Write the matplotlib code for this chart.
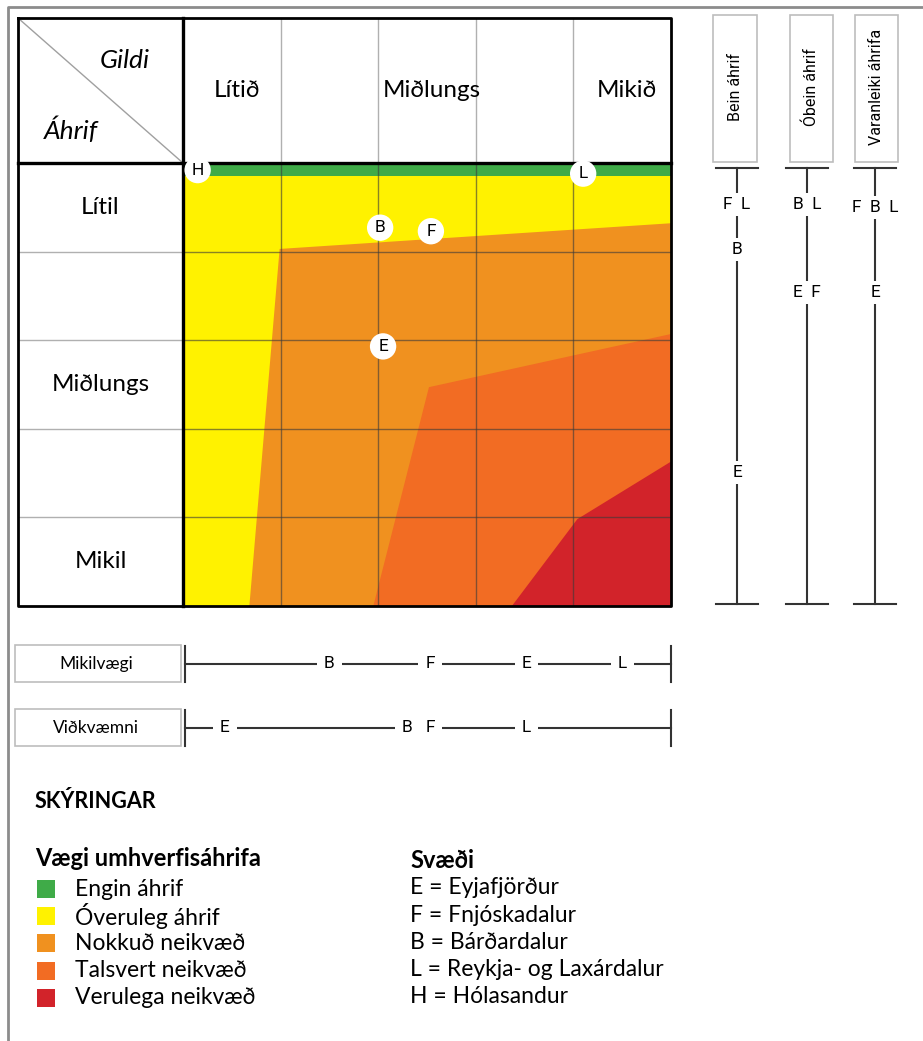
import matplotlib
matplotlib.use('Agg')
import matplotlib.pyplot as plt
from matplotlib.patches import Rectangle, Polygon

W, H = 923, 1041
plt.rcParams['font.family'] = ['Lato', 'DejaVu Sans']

# flokkar og litir
flokkar = ['Engin áhrif', 'Óveruleg áhrif', 'Nokkuð neikvæð', 'Talsvert neikvæð', 'Verulega neikvæð']
litir = ['#3fab48', '#fff200', '#f0911f', '#f26c23', '#d2232a']

gildi_labels = ['Lítið', '', 'Miðlungs', '', 'Mikið']
ahrif_labels = ['Lítil', '', 'Miðlungs', '', 'Mikil']

# svæði í fylki (grid einingar: x = gildi, y = áhrif niður)
graent = [(0, 0), (5, 0), (5, 0.15), (0, 0.15)]
nokkud = [(0.99, 0.97), (5, 0.68), (5, 5), (0.68, 5)]
talsvert = [(2.52, 2.53), (5, 1.93), (5, 5), (1.95, 5)]
verulega = [(4.04, 4.02), (5, 3.37), (5, 5), (3.37, 5)]

svaedi = ['H', 'L', 'B', 'F', 'E']
svaedi_x = [0.15, 4.10, 2.02, 2.54, 2.05]
svaedi_y = [0.08, 0.12, 0.73, 0.77, 2.07]

# lóðréttir kvarðar
kvardar = ['Bein áhrif', 'Óbein áhrif', 'Varanleiki áhrifa']
bein_stafir = ['F', 'L', 'B', 'E']
bein_gildi = [0.47, 0.47, 0.98, 3.49]
obein_stafir = ['B', 'L', 'E', 'F']
obein_gildi = [0.47, 0.47, 1.46, 1.46]
varan_stafir = ['F', 'B', 'L', 'E']
varan_gildi = [0.50, 0.50, 0.50, 1.46]

# láréttir kvarðar
mikil_stafir = ['B', 'F', 'E', 'L']
mikil_gildi = [1.50, 2.53, 3.52, 4.50]
vidk_stafir = ['E', 'B', 'F', 'L']
vidk_gildi = [0.43, 2.30, 2.53, 3.52]

svaedi_nofn = ['E = Eyjafjörður', 'F = Fnjóskadalur', 'B = Bárðardalur',
               'L = Reykja- og Laxárdalur', 'H = Hólasandur']

fig = plt.figure(figsize=(W / 100, H / 100), dpi=100)


def px_axes(x0, y0, x1, y1):
    a = fig.add_axes([x0 / W, 1 - y1 / H, (x1 - x0) / W, (y1 - y0) / H])
    a.axis('off')
    return a


# bakgrunnur
bg = px_axes(0, 0, W, H)
bg.set_xlim(0, W)
bg.set_ylim(H, 0)
bg.plot([8, 8, W], [H, 7, 7], color='#8c8c8c', lw=2)

# kassar fyrir lóðrétta kvarða
for (x0, x1), t in zip([(713, 757), (790, 833), (855, 898)], kvardar):
    bg.add_patch(Rectangle((x0, 15), x1 - x0, 147, fc='white', ec='#bdbdbd', lw=1.2))
    bg.text((x0 + x1) / 2, 87, t, rotation=90, ha='center', va='center',
            fontsize=11.5, family=['Roboto', 'DejaVu Sans'])

for y0, t in [(645, 'Mikilvægi'), (709, 'Viðkvæmni')]:
    bg.add_patch(Rectangle((15, y0), 166, 37, fc='white', ec='#bdbdbd', lw=1.2))
    bg.text(96, y0 + 19, t, ha='center', va='center', fontsize=12.5)

# skýringar
bg.text(35, 801, 'SKÝRINGAR', fontsize=15.5, fontweight='bold', va='center')
bg.text(35, 859, 'Vægi umhverfisáhrifa', fontsize=17, fontweight='bold', va='center')
for i, (f, c) in enumerate(zip(flokkar, litir)):
    y = 889 + i * 27.2
    bg.add_patch(Rectangle((37, y - 9), 18, 18, fc=c, ec='none'))
    bg.text(75, y, f, fontsize=16.5, va='center')
bg.text(410, 860, 'Svæði', fontsize=17, fontweight='bold', va='center')
for i, t in enumerate(svaedi_nofn):
    bg.text(410, 888 + i * 27.2, t, fontsize=16.5, va='center')

# fylkið
mx = px_axes(18, 18, 671, 606)
L = -165 / 97.6
T = -145 / 88.6
mx.set_xlim(L, 5)
mx.set_ylim(5, T)

mx.add_patch(Rectangle((0, 0), 5, 5, fc=litir[1], ec='none'))
for poly, c in zip([graent, nokkud, talsvert, verulega], [litir[0], litir[2], litir[3], litir[4]]):
    mx.add_patch(Polygon(poly, closed=True, fc=c, ec='none'))

for k in range(1, 5):
    mx.plot([k, k], [0, 5], color='#3a3a3a', lw=1, alpha=0.6)
    mx.plot([0, 5], [k, k], color='#3a3a3a', lw=1, alpha=0.6)
    mx.plot([k, k], [T, 0], color='#b0b0b0', lw=1)
    mx.plot([L, 0], [k, k], color='#b0b0b0', lw=1)

mx.plot([L, 0], [T, 0], color='#a0a0a0', lw=1)
mx.plot([L, 5, 5, L, L], [T, T, 5, 5, T], color='black', lw=2, clip_on=False)
mx.plot([L, 5], [0, 0], color='black', lw=2.4, clip_on=False)
mx.plot([0, 0], [T, 5], color='black', lw=2.4, clip_on=False)

for i, t in enumerate(gildi_labels):
    mx.text(i + 0.55, T / 2, t, ha='center', va='center', fontsize=17.5)
for i, t in enumerate(ahrif_labels):
    mx.text(L / 2, i + 0.5, t, ha='center', va='center', fontsize=17.5)
mx.text(-0.60, -1.16, 'Gildi', style='italic', ha='center', va='center', fontsize=19)
mx.text(-1.15, -0.37, 'Áhrif', style='italic', ha='center', va='center', fontsize=19)

mx.scatter(svaedi_x, svaedi_y, s=360, c='white', ec='none', zorder=5, clip_on=False)
for s, x, y in zip(svaedi, svaedi_x, svaedi_y):
    mx.text(x, y, s, ha='center', va='center', fontsize=12.5, zorder=6,
            family=['Roboto', 'DejaVu Sans'])

# lóðréttir kvarðar
vk = px_axes(700, 163, 923, 606)
vk.set_xlim(700, 923)
vk.set_ylim(5, 0)
for x, stafir, gildi in zip([737, 807, 875],
                            [bein_stafir, obein_stafir, varan_stafir],
                            [bein_gildi, obein_gildi, varan_gildi]):
    vk.plot([x, x], [0.056, 4.98], color='#333333', lw=1.5)
    vk.plot([x - 21, x + 21], [0.056, 0.056], color='#333333', lw=1.5)
    vk.plot([x - 21, x + 21], [4.98, 4.98], color='#333333', lw=1.5)
    hopar = {}
    for s, g in zip(stafir, gildi):
        hopar.setdefault(g, []).append(s)
    for g, ss in hopar.items():
        vk.text(x, g, '  '.join(ss), ha='center', va='center', fontsize=12.5,
                family=['Roboto', 'DejaVu Sans'], zorder=5,
                bbox=dict(fc='white', ec='none', pad=3))

# láréttir kvarðar
hk = px_axes(183, 630, 671, 760)
hk.set_xlim(0, 5)
hk.set_ylim(760, 630)
for y, stafir, gildi in [(664, mikil_stafir, mikil_gildi), (728, vidk_stafir, vidk_gildi)]:
    hk.plot([0.02, 5], [y, y], color='#333333', lw=1.5, clip_on=False)
    for x in [0.02, 5]:
        hk.plot([x, x], [y - 18, y + 18], color='#333333', lw=1.5, clip_on=False)
    for s, g in zip(stafir, gildi):
        hk.text(g, y, s, ha='center', va='center', fontsize=12.5,
                family=['Roboto', 'DejaVu Sans'], zorder=5,
                bbox=dict(fc='white', ec='none', pad=5))

plt.savefig('out.png', dpi=100)
